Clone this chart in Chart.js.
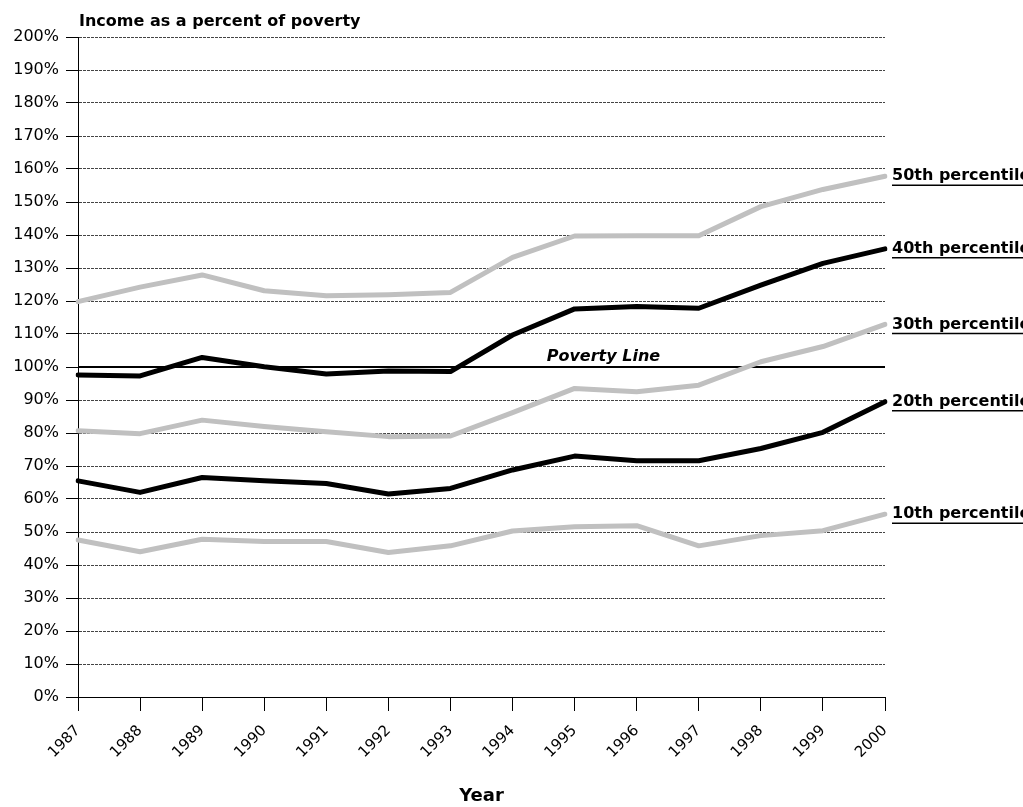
<!DOCTYPE html>
<html>
<head>
<meta charset="utf-8">
<title>Income as a percent of poverty</title>
<script src="https://cdn.jsdelivr.net/npm/chart.js@4.4.1/dist/chart.umd.min.js"></script>
<style>
  html, body { margin: 0; padding: 0; background: #ffffff; }
  #wrap { width: 1023px; height: 807px; }
</style>
</head>
<body>
<div id="wrap"><canvas id="chart" width="1023" height="807"></canvas></div>
<script>
// Years on the horizontal axis
const years = ['1987', '1988', '1989', '1990', '1991', '1992', '1993',
               '1994', '1995', '1996', '1997', '1998', '1999', '2000'];

// Family income as a percent of the poverty threshold, by percentile
const pct10 = [47.6, 44.0, 47.8, 47.1, 47.1, 43.8, 45.8, 50.3, 51.6, 51.9, 45.8, 48.9, 50.4, 55.4];
const pct20 = [65.5, 62.0, 66.5, 65.5, 64.7, 61.5, 63.2, 68.8, 73.0, 71.6, 71.6, 75.3, 80.2, 89.5];
const pct30 = [80.7, 79.8, 83.9, 82.0, 80.4, 78.9, 79.1, 86.2, 93.5, 92.5, 94.5, 101.6, 106.2, 112.9];
const pct40 = [97.6, 97.3, 102.9, 100.1, 97.9, 98.8, 98.6, 109.7, 117.6, 118.3, 117.8, 124.8, 131.4, 135.8];
const pct50 = [119.8, 124.2, 127.9, 123.1, 121.6, 121.9, 122.6, 133.2, 139.7, 139.8, 139.8, 148.6, 153.8, 157.8];

// Percentile names shown at the right end of each line
const seriesNames = ['10th percentile', '20th percentile', '30th percentile', '40th percentile', '50th percentile'];

// Vertical axis range and tick step (percent)
const yMin = 0;
const yMax = 200;
const yStep = 10;

// The poverty threshold itself
const povertyLevel = 100;
const povertyLabel = 'Poverty Line';

const GREY = '#c0c0c0';
const BLACK = '#000000';
const FONT = "'DejaVu Sans', 'Liberation Sans', Arial, sans-serif";

const seriesValues = [pct10, pct20, pct30, pct40, pct50];
const seriesColors = [GREY, BLACK, GREY, BLACK, GREY];

const datasets = seriesValues.map((vals, i) => ({
  label: seriesNames[i],
  data: vals,
  borderColor: seriesColors[i],
  backgroundColor: seriesColors[i],
  borderWidth: 5,
  pointRadius: 0,
  tension: 0,
  fill: false,
  borderCapStyle: 'round',
  borderJoinStyle: 'round'
}));

// Draws the poverty line, its caption, the line-end labels and the heading
const overlay = {
  id: 'overlay',
  beforeDatasetsDraw(chart) {
    const { ctx, chartArea, scales } = chart;
    const y = scales.y.getPixelForValue(povertyLevel);
    ctx.save();
    ctx.strokeStyle = BLACK;
    ctx.lineWidth = 2;
    ctx.beginPath();
    ctx.moveTo(chartArea.left, y);
    ctx.lineTo(chartArea.right, y);
    ctx.stroke();
    // caption sits just above the line, a little past the middle of the plot
    ctx.font = "italic bold 16px " + FONT;
    ctx.fillStyle = BLACK;
    ctx.textAlign = 'left';
    ctx.textBaseline = 'alphabetic';
    const x = scales.x.getPixelForValue(7.55);
    ctx.fillText(povertyLabel, x, y - 6);
    ctx.restore();
  },
  afterDatasetsDraw(chart) {
    const { ctx, chartArea, scales } = chart;
    ctx.save();
    ctx.font = "bold 16px " + FONT;
    ctx.fillStyle = BLACK;
    ctx.strokeStyle = BLACK;
    ctx.textAlign = 'left';
    ctx.textBaseline = 'middle';
    chart.data.datasets.forEach(ds => {
      const last = ds.data[ds.data.length - 1];
      const y = scales.y.getPixelForValue(last);
      const x = chartArea.right + 7;
      ctx.fillText(ds.label, x, y);
      const w = ctx.measureText(ds.label).width;
      ctx.lineWidth = 1.5;
      ctx.beginPath();
      ctx.moveTo(x, y + 9);
      ctx.lineTo(x + w, y + 9);
      ctx.stroke();
    });
    ctx.restore();
  },
  afterDraw(chart) {
    const { ctx, chartArea } = chart;
    ctx.save();
    ctx.font = "bold 16px " + FONT;
    ctx.fillStyle = BLACK;
    ctx.textAlign = 'left';
    ctx.textBaseline = 'alphabetic';
    ctx.fillText('Income as a percent of poverty', chartArea.left + 1, 26);
    ctx.restore();
  }
};

new Chart(document.getElementById('chart'), {
  type: 'line',
  data: { labels: years, datasets: datasets },
  options: {
    responsive: false,
    animation: false,
    events: [],
    layout: { padding: { top: 37, right: 138, left: 0, bottom: 0 } },
    plugins: {
      legend: { display: false },
      tooltip: { enabled: false },
      title: { display: false }
    },
    scales: {
      x: {
        offset: false,
        grid: { drawOnChartArea: false, drawTicks: true, tickLength: 14, tickColor: BLACK, tickWidth: 1 },
        border: { display: true, color: BLACK, width: 1 },
        ticks: {
          autoSkip: false,
          minRotation: 45,
          maxRotation: 45,
          color: BLACK,
          padding: 11,
          font: { family: FONT, size: 15 }
        },
        title: {
          display: true,
          text: 'Year',
          color: BLACK,
          padding: { top: 0, bottom: 0 },
          font: { family: FONT, size: 18, weight: 'bold' }
        },
        afterFit(scale) { scale.height = 110; }
      },
      y: {
        min: yMin,
        max: yMax,
        ticks: {
          stepSize: yStep,
          color: BLACK,
          padding: 7,
          font: { family: FONT, size: 16 },
          callback: v => v + '%'
        },
        grid: { color: '#444444', lineWidth: 1, tickLength: 12, tickColor: BLACK, tickWidth: 1 },
        border: { display: true, color: BLACK, width: 1, dash: [3, 1] },
        afterFit(scale) { scale.width = 78; }
      }
    }
  },
  plugins: [overlay]
});
</script>
</body>
</html>
